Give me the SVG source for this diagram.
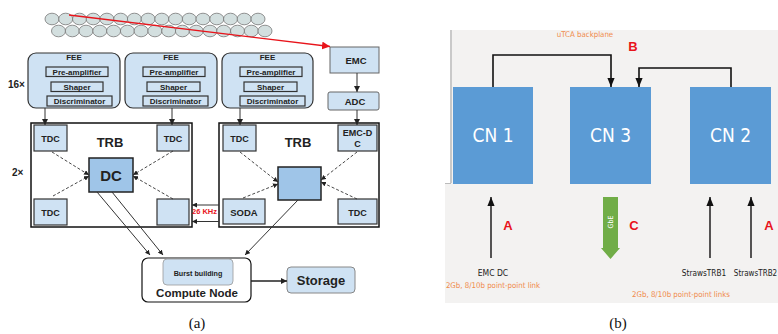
<svg xmlns="http://www.w3.org/2000/svg" width="778" height="334" viewBox="0 0 778 334">
<style>
.b{font-family:"Liberation Sans",Arial,sans-serif;font-weight:bold;fill:#222;text-anchor:middle}
.lb{fill:#cfe2f3;stroke:#333;stroke-width:1.2}
.db{fill:#9fc5e8;stroke:#222;stroke-width:1.5}
.trb{fill:#fff;stroke:#111;stroke-width:1.5}
.dash{stroke:#333;stroke-width:0.9;stroke-dasharray:3,2;fill:none}
.sol{stroke:#333;stroke-width:1;fill:none}
.cn{fill:#5b9bd5}
.cnt{font-family:"DejaVu Sans Condensed","DejaVu Sans",sans-serif;font-size:19px;fill:#fff;text-anchor:middle}
.rt{font-family:"DejaVu Sans Condensed","DejaVu Sans",sans-serif;text-anchor:middle}
.or{fill:#f08a4b;font-size:7.8px}
.red{font-family:"Liberation Sans",Arial,sans-serif;font-weight:bold;fill:#e8141b;font-size:13px;text-anchor:middle}
.cap{font-family:"Liberation Serif","Times New Roman",serif;font-size:15px;fill:#111;text-anchor:middle}
.ball{fill:#d3dfdf;stroke:#777;stroke-width:0.8}
</style>
<defs>
<marker id="ah" viewBox="0 0 10 10" refX="10" refY="5" markerWidth="6" markerHeight="6" markerUnits="userSpaceOnUse" orient="auto"><path d="M0,0L10,5L0,10z" fill="#222"/></marker>
<marker id="ahs" viewBox="0 0 10 10" refX="10" refY="5" markerWidth="5" markerHeight="5" markerUnits="userSpaceOnUse" orient="auto"><path d="M0,0L10,5L0,10z" fill="#222"/></marker>
<marker id="ahr" viewBox="0 0 10 10" refX="10" refY="5" markerWidth="8" markerHeight="8" markerUnits="userSpaceOnUse" orient="auto"><path d="M0,0L10,5L0,10z" fill="#e8141b"/></marker>
<marker id="ahb" viewBox="0 0 10 10" refX="10" refY="5" markerWidth="9" markerHeight="9" markerUnits="userSpaceOnUse" orient="auto"><path d="M0,1L10,5L0,9z" fill="#111"/></marker>
<ellipse id="e" cx="0" cy="0" rx="7" ry="5.8" class="ball"/>
</defs>

<!-- detector balls -->
<g id="detector">
<use href="#e" x="52" y="19"/><use href="#e" x="65.7" y="19"/><use href="#e" x="79.5" y="19"/><use href="#e" x="93.2" y="19"/>
<use href="#e" x="106.9" y="19"/><use href="#e" x="120.7" y="19"/><use href="#e" x="134.4" y="19"/><use href="#e" x="148.1" y="19"/>
<use href="#e" x="161.8" y="19"/><use href="#e" x="175.6" y="19"/><use href="#e" x="189.3" y="19"/><use href="#e" x="203" y="19"/>
<use href="#e" x="216.8" y="19"/><use href="#e" x="230.5" y="19"/><use href="#e" x="244.2" y="19"/><use href="#e" x="258" y="19"/>
<use href="#e" x="58.5" y="31"/><use href="#e" x="72.3" y="31"/><use href="#e" x="86" y="31"/><use href="#e" x="99.8" y="31"/>
<use href="#e" x="113.6" y="31"/><use href="#e" x="127.4" y="31"/><use href="#e" x="141.1" y="31"/><use href="#e" x="154.9" y="31"/>
<use href="#e" x="168.7" y="31"/><use href="#e" x="182.4" y="31"/><use href="#e" x="196.2" y="31"/><use href="#e" x="210" y="31"/>
<use href="#e" x="223.7" y="31"/><use href="#e" x="237.5" y="31"/><use href="#e" x="251.3" y="31"/><use href="#e" x="265" y="31"/>
</g>

<!-- FEE boxes -->
<g id="fee1">
<rect x="28" y="53" width="92" height="55" rx="8" class="lb" stroke-width="1.4"/>
<text x="74" y="60" class="b" font-size="8">FEE</text>
<rect x="46" y="67" width="62" height="9.5" class="lb"/><text x="77" y="74.8" class="b" font-size="8">Pre-amplifier</text>
<rect x="51" y="82" width="52" height="9.5" class="lb"/><text x="77" y="89.8" class="b" font-size="8">Shaper</text>
<rect x="47" y="96" width="65" height="10" class="lb"/><text x="79.5" y="104.2" class="b" font-size="8">Discriminator</text>
</g>
<g id="fee2">
<rect x="125" y="53" width="92" height="55" rx="8" class="lb" stroke-width="1.4"/>
<text x="171" y="60" class="b" font-size="8">FEE</text>
<rect x="143" y="67" width="62" height="9.5" class="lb"/><text x="174" y="74.8" class="b" font-size="8">Pre-amplifier</text>
<rect x="147" y="82" width="53" height="9.5" class="lb"/><text x="173.5" y="89.8" class="b" font-size="8">Shaper</text>
<rect x="143" y="96" width="65" height="10" class="lb"/><text x="175.5" y="104.2" class="b" font-size="8">Discriminator</text>
</g>
<g id="fee3">
<rect x="222" y="53" width="91" height="55" rx="8" class="lb" stroke-width="1.4"/>
<text x="267.5" y="60" class="b" font-size="8">FEE</text>
<rect x="240" y="67" width="62" height="9.5" class="lb"/><text x="271" y="74.8" class="b" font-size="8">Pre-amplifier</text>
<rect x="244" y="82" width="53" height="9.5" class="lb" stroke="#777"/><text x="270.5" y="89.8" class="b" font-size="8">Shaper</text>
<rect x="240" y="96" width="65" height="10" class="lb"/><text x="272.5" y="104.2" class="b" font-size="8">Discriminator</text>
</g>
<text x="8" y="88" font-family="Liberation Sans,Arial,sans-serif" font-weight="bold" font-size="10" fill="#222">16×</text>

<g id="emc">
<rect x="330" y="47" width="49" height="26" fill="#cfe2f3" stroke="#666" stroke-width="1"/>
<text x="356" y="64" class="b" font-size="9.5">EMC</text>
</g>
<g id="adc">
<rect x="328" y="92" width="51" height="18" rx="2" fill="#cfe2f3" stroke="#666" stroke-width="1"/>
<text x="355" y="104.5" class="b" font-size="9.5">ADC</text>
</g>

<!-- TRB left -->
<g id="trb1">
<rect x="31" y="123" width="161" height="104" class="trb"/>
<text x="110" y="147" class="b" font-size="13">TRB</text>
<rect x="34" y="125" width="33" height="26" class="lb"/><text x="50.5" y="141.5" class="b" font-size="9">TDC</text>
<rect x="157" y="125" width="32" height="26" class="lb"/><text x="173" y="141.5" class="b" font-size="9">TDC</text>
<rect x="34" y="199" width="33" height="26" class="lb"/><text x="50.5" y="215.5" class="b" font-size="9">TDC</text>
<rect x="157" y="199" width="32" height="26" class="lb"/>
<rect x="89" y="158" width="44" height="34" class="db"/><text x="111" y="181" class="b" font-size="15">DC</text>
</g>
<text x="12" y="176" font-family="Liberation Sans,Arial,sans-serif" font-weight="bold" font-size="10" fill="#222">2×</text>

<!-- TRB right -->
<g id="trb2">
<rect x="219" y="123" width="160" height="104" class="trb"/>
<text x="298" y="147" class="b" font-size="13">TRB</text>
<rect x="223" y="125" width="33" height="26" class="lb"/><text x="239.5" y="141.5" class="b" font-size="9">TDC</text>
<rect x="338" y="125" width="39" height="26" class="lb"/><text x="357.5" y="136" class="b" font-size="9">EMC-D</text><text x="357.5" y="147" class="b" font-size="9">C</text>
<rect x="223" y="199" width="42" height="25" class="lb"/><text x="244" y="215.5" class="b" font-size="9.5">SODA</text>
<rect x="338" y="199" width="39" height="25" class="lb"/><text x="357.5" y="215.5" class="b" font-size="9">TDC</text>
<rect x="278" y="167" width="43" height="33" class="db"/>
</g>

<g id="compute">
<rect x="142" y="258" width="109" height="44" rx="6" fill="#fff" stroke="#111" stroke-width="1.2"/>
<rect x="163" y="259" width="70" height="26" rx="4" fill="#cfe2f3" stroke="#999" stroke-width="0.8"/>
<text x="198" y="275.5" class="b" font-size="7.2">Burst building</text>
<text x="197" y="297" class="b" font-size="11.5">Compute Node</text>
</g>
<g id="storage">
<rect x="287" y="267" width="68" height="26" rx="4" fill="#cfe2f3" stroke="#888" stroke-width="1"/>
<text x="321" y="285" class="b" font-size="13">Storage</text>
</g>

<!-- connectors (a) -->
<g id="connectors-a">
<line x1="69" y1="15" x2="330" y2="46.5" stroke="#e8141b" stroke-width="1.3" marker-end="url(#ahr)"/>
<line x1="45" y1="108" x2="45" y2="125" class="sol" marker-end="url(#ah)"/>
<line x1="172" y1="108" x2="172" y2="125" class="sol" marker-end="url(#ah)"/>
<line x1="240" y1="108" x2="240" y2="125" class="sol" marker-end="url(#ah)"/>
<line x1="357" y1="73" x2="357" y2="92" class="sol" marker-end="url(#ah)"/>
<line x1="357" y1="110" x2="357" y2="125" class="sol" marker-end="url(#ah)"/>
<line x1="52" y1="152" x2="89" y2="175" class="dash" marker-end="url(#ahs)"/>
<line x1="53" y1="196" x2="89" y2="176" class="dash" marker-end="url(#ahs)"/>
<line x1="173" y1="151" x2="133" y2="175" class="dash" marker-end="url(#ahs)"/>
<line x1="173" y1="199" x2="133" y2="176" class="dash" marker-end="url(#ahs)"/>
<line x1="240" y1="152" x2="278" y2="182" class="dash" marker-end="url(#ahs)"/>
<line x1="243" y1="198" x2="278" y2="184" class="dash" marker-end="url(#ahs)"/>
<line x1="357" y1="152" x2="321" y2="180" class="dash" marker-end="url(#ahs)"/>
<line x1="357" y1="199" x2="321" y2="182" class="dash" marker-end="url(#ahs)"/>
<line x1="97" y1="192" x2="150" y2="255" class="sol" marker-end="url(#ahs)"/>
<line x1="112" y1="192" x2="163" y2="255" class="sol" marker-end="url(#ahs)"/>
<line x1="298" y1="200" x2="245" y2="255" class="sol" marker-end="url(#ahs)"/>
<line x1="251" y1="281" x2="287" y2="281" stroke="#222" stroke-width="1.3" marker-end="url(#ah)"/>
<line x1="219" y1="205" x2="192" y2="205" class="sol" marker-end="url(#ahs)"/>
<line x1="219" y1="221.5" x2="192" y2="221.5" class="sol" marker-end="url(#ahs)"/>
<text x="204.5" y="213.5" font-family="Liberation Sans,Arial,sans-serif" font-weight="bold" font-size="7.5" fill="#e8141b" text-anchor="middle">26 KHz</text>
</g>
<text x="197" y="328" class="cap">(a)</text>

<!-- panel (b) -->
<rect x="450" y="30" width="328" height="273" fill="#f3f2f1"/>
<rect x="445" y="183" width="5" height="120" fill="#f3f2f1"/>
<line x1="451" y1="30" x2="451" y2="183" stroke="#bbb" stroke-width="1.5"/>
<line x1="445" y1="183.5" x2="451" y2="183.5" stroke="#bbb" stroke-width="1"/>

<g id="cn1"><rect x="453" y="87" width="80" height="97" class="cn"/><text x="493" y="142" class="cnt">CN 1</text></g>
<g id="cn3"><rect x="570" y="87" width="81" height="97" class="cn"/><text x="610.5" y="142" class="cnt">CN 3</text></g>
<g id="cn2"><rect x="690" y="87" width="81" height="97" class="cn"/><text x="730.5" y="142" class="cnt">CN 2</text></g>

<g id="connectors-b">
<path d="M493,87V55H611V87" fill="none" stroke="#111" stroke-width="1.6" marker-end="url(#ahb)"/>
<path d="M731,87V68H639V87" fill="none" stroke="#111" stroke-width="1.6" marker-end="url(#ahb)"/>
<line x1="491" y1="258" x2="491" y2="197" stroke="#111" stroke-width="1.4" marker-end="url(#ahb)"/>
<line x1="710" y1="258" x2="710" y2="197" stroke="#111" stroke-width="1.4" marker-end="url(#ahb)"/>
<line x1="751" y1="258" x2="751" y2="197" stroke="#111" stroke-width="1.4" marker-end="url(#ahb)"/>
<path d="M603,197H618V248H620L610.5,259L601,248H603Z" fill="#70ad47"/>
<text transform="translate(613,222) rotate(-90)" class="rt" font-size="7" fill="#fff">GbE</text>
</g>

<text x="585" y="37" class="rt or">uTCA backplane</text>
<text x="633" y="51" class="red">B</text>
<text x="508" y="230" class="red">A</text>
<text x="634" y="230" class="red">C</text>
<text x="769" y="230" class="red">A</text>
<text x="493" y="276" class="rt" font-size="8.5" fill="#222">EMC DC</text>
<text x="493" y="288" class="rt or">2Gb, 8/10b point-point link</text>
<text x="704" y="276" class="rt" font-size="8.2" fill="#222">StrawsTRB1</text>
<text x="755.5" y="276" class="rt" font-size="8" fill="#222">StrawsTRB2</text>
<text x="681" y="297" class="rt or" text-anchor="start">2Gb, 8/10b point-point links</text>

<text x="618" y="328" class="cap">(b)</text>
</svg>
